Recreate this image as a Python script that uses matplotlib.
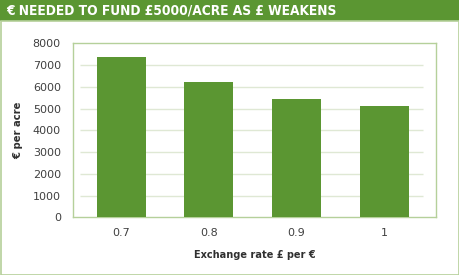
import matplotlib.pyplot as plt
from matplotlib.patches import Rectangle

rates = ["0.7", "0.8", "0.9", "1"]
euros = [7350, 6230, 5440, 5110]
yticks = [0, 1000, 2000, 3000, 4000, 5000, 6000, 7000, 8000]

green = "#5b9632"
light = "#b5d09a"
W, H = 460, 275

fig = plt.figure(figsize=(4.6, 2.75), dpi=100)

# header band and outer frame
fig.patches.append(Rectangle((0, 1 - 21 / H), 1, 21 / H, transform=fig.transFigure,
                             facecolor=green, edgecolor="none"))
fig.patches.append(Rectangle((0.5 / W, 0.5 / H), 1 - 1 / W, 1 - 21 / H - 0.5 / H,
                             transform=fig.transFigure, facecolor="none",
                             edgecolor=light, linewidth=1.2))
fig.text(6 / W, 1 - 10.5 / H, "€ NEEDED TO FUND £5000/ACRE AS £ WEAKENS",
         color="white", fontsize=9.8, fontweight="bold", fontstretch="condensed",
         va="center", ha="left")

# plot area in pixels
left, right, top, bottom = 73.3, 435.7, 43.3, 217.3
ax = fig.add_axes([left / W, 1 - bottom / H, (right - left) / W, (bottom - top) / H])
x = range(len(rates))
ax.bar(x, euros, width=0.56, color=green, zorder=3)
ax.hlines(yticks[1:-1], -0.47, 3.45, color="#dfe8d4", linewidth=1, zorder=1)
ax.set_xlim(-0.549, 3.59)
ax.set_ylim(0, 8000)
ax.set_yticks(yticks)
ax.set_xticks(list(x))
ax.set_xticklabels(rates)
for s in ax.spines.values():
    s.set_color(light)
    s.set_linewidth(1)
ax.tick_params(length=0, labelsize=8, labelcolor="#404040", pad=9)
ax.tick_params(axis="x", pad=8)
ax.set_ylabel("€ per acre", fontsize=8, fontweight="bold", fontstretch="condensed",
              color="#303030", labelpad=7)
ax.set_xlabel("Exchange rate £ per €", fontsize=7.8, fontweight="bold",
              fontstretch="condensed", color="#303030", labelpad=8)

fig.savefig("out.png", dpi=100)
